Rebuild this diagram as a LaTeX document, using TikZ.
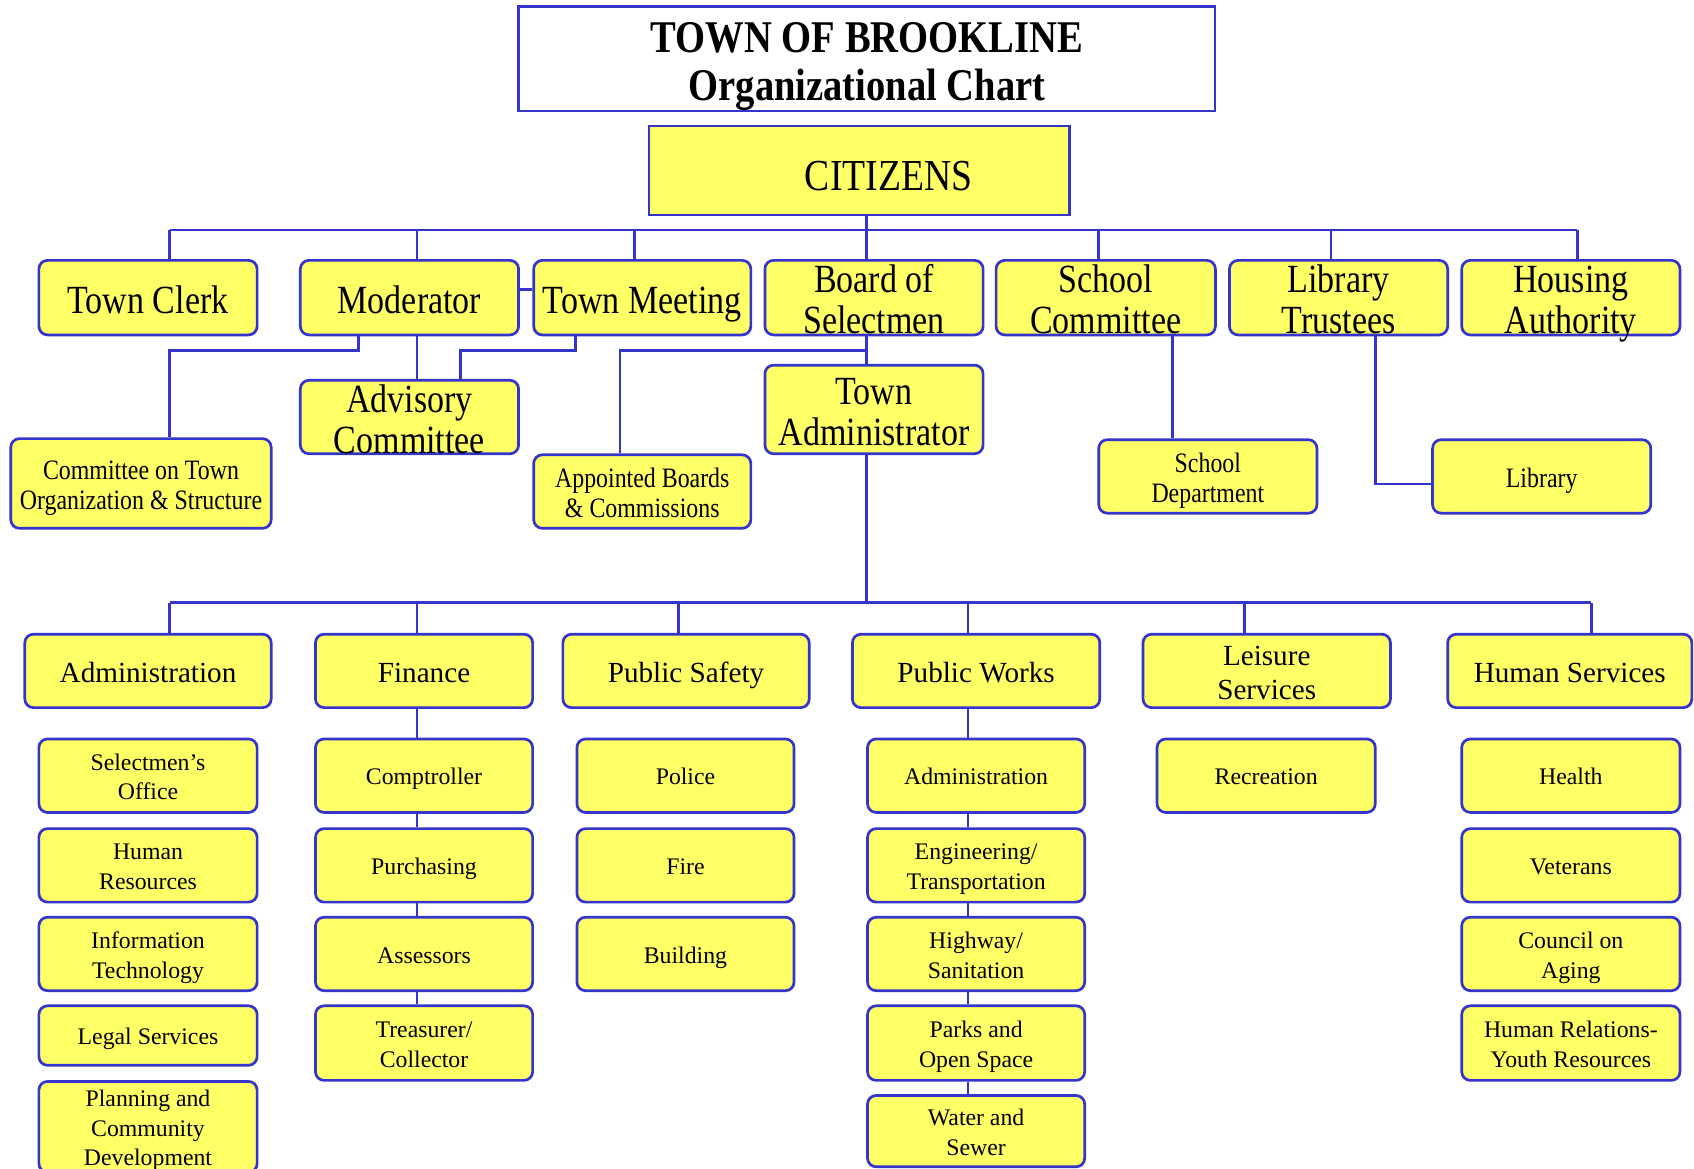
\documentclass[tikz,border=0pt]{standalone}
\usepackage{fontspec}
\setmainfont{Liberation Serif}
\newfontfamily\cond[FakeStretch=0.85]{Liberation Serif}
\definecolor{bl}{HTML}{3535CC}
\definecolor{yel}{HTML}{FFFF66}
\newcommand\bs{\rule{0pt}{1.0em}}
\begin{document}
\begin{tikzpicture}[x=1pt,y=-1pt,
  struts/.style={execute at end node={\rule[-0.22em]{0pt}{0pt}}},
  box/.style={struts, draw=bl, fill=yel, line width=2.5pt, rounded corners=8pt, inner sep=0pt, inner ysep=-10pt, align=center, text=black},
  bigbox/.style={box, minimum width=202, minimum height=69, font=\cond\fontsize{37}{38}\selectfont},
  smallcond/.style={box, minimum width=202, minimum height=68, font=\cond\fontsize{26}{28}\selectfont},
  deptbox/.style={box, minimum width=228, minimum height=68, font=\fontsize{27}{32}\selectfont},
  subbox/.style={box, minimum width=202, minimum height=68, font=\fontsize{22}{27.5}\selectfont},
  conn/.style={draw=bl, line width=2.5pt}]
\clip (0,0) rectangle (1568,1082);
\fill[white] (0,0) rectangle (1568,1082);

% title and citizens
\node[struts, draw=bl, line width=2pt, minimum width=645, minimum height=97, inner sep=0pt, inner ysep=-10pt, align=center,
      font=\cond\bfseries\fontsize{42}{44}\selectfont] (title) at (802.5,54.5) {\bs TOWN OF BROOKLINE\\Organizational Chart};
\node[draw=bl, fill=yel, line width=2pt, minimum width=389, minimum height=82, inner sep=0pt,
      font=\cond\fontsize{41}{44}\selectfont] (cit) at (795.5,158) {\hspace*{54pt}\rule{0pt}{37pt}CITIZENS};

% row 1
\node[bigbox] (clerk) at (137,275.5) {\bs Town Clerk};
\node[bigbox] (mod) at (379,275.5) {\bs Moderator};
\node[bigbox, minimum width=201] (tm) at (594.5,275.5) {\bs Town Meeting};
\node[bigbox] (board) at (809,275.5) {\bs Board of\\Selectmen};
\node[bigbox, minimum width=203] (sc) at (1023.5,275.5) {\bs School\\Committee};
\node[bigbox] (lt) at (1239,275.5) {\bs Library\\Trustees};
\node[bigbox] (ha) at (1454,275.5) {\bs Housing\\Authority};

% second level top
\node[bigbox, minimum height=68] (adv) at (379,386) {\bs Advisory\\Committee};
\node[bigbox, minimum height=82] (ta) at (809,379) {\bs Town\\Administrator};
\node[smallcond, minimum width=241, minimum height=83] (comm) at (130.5,447.5) {\bs Committee on Town\\Organization \& Structure};
\node[smallcond, minimum width=201] (app) at (594.5,455) {\bs Appointed Boards\\\& Commissions};
\node[smallcond] (sd) at (1118,441) {\bs School\\Department};
\node[smallcond] (lib) at (1427,441) {\bs Library};

% departments
\node[deptbox] (adm) at (137,621) {\bs Administration};
\node[deptbox, minimum width=201] (fin) at (392.5,621) {\bs Finance};
\node[deptbox] (ps) at (635,621) {\bs Public Safety};
\node[deptbox, minimum width=229] (pw) at (903.5,621) {\bs Public Works};
\node[deptbox, minimum width=229] (leis) at (1172.5,621) {\bs Leisure\\Services};
\node[deptbox, minimum width=226] (hs) at (1453,621) {\bs Human Services};

% administration column
\node[subbox] (selo) at (137,718) {\bs Selectmen’s\\Office};
\node[subbox] (hr) at (137,801) {\bs Human\\Resources};
\node[subbox] (it) at (137,883) {\bs Information\\Technology};
\node[subbox, minimum height=55] (legal) at (137,958.5) {\bs Legal Services};
\node[subbox, minimum height=84] (plan) at (137,1043) {\bs Planning and\\Community\\Development};

% finance column
\node[subbox, minimum width=201] (comp) at (392.5,718) {\bs Comptroller};
\node[subbox, minimum width=201] (purch) at (392.5,801) {\bs Purchasing};
\node[subbox, minimum width=201] (assess) at (392.5,883) {\bs Assessors};
\node[subbox, minimum width=201, minimum height=69] (treas) at (392.5,965.5) {\bs Treasurer/\\Collector};

% public safety column
\node[subbox, minimum width=201] (police) at (634.5,718) {\bs Police};
\node[subbox, minimum width=201] (fire) at (634.5,801) {\bs Fire};
\node[subbox, minimum width=201] (bldg) at (634.5,883) {\bs Building};

% public works column
\node[subbox, minimum width=201] (pwadm) at (903.5,718) {\bs Administration};
\node[subbox, minimum width=201] (eng) at (903.5,801) {\bs Engineering/\\Transportation};
\node[subbox, minimum width=201] (hwy) at (903.5,883) {\bs Highway/\\Sanitation};
\node[subbox, minimum width=201, minimum height=69] (parks) at (903.5,965.5) {\bs Parks and\\Open Space};
\node[subbox, minimum width=201, minimum height=66] (water) at (903.5,1047) {\bs Water and\\Sewer};

% leisure column
\node[subbox] (rec) at (1172,718) {\bs Recreation};

% human services column
\node[subbox] (health) at (1454,718) {\bs Health};
\node[subbox] (vet) at (1454,801) {\bs Veterans};
\node[subbox] (coa) at (1454,883) {\bs Council on\\Aging};
\node[subbox, minimum height=69] (hrel) at (1454,965.5) {\bs Human Relations-\\Youth Resources};

% ---- connectors top ----
\coordinate (b1L) at (157,213);
\coordinate (b1R) at (1460,213);
\draw[conn] (b1L) -- (b1R);
\draw[conn] ([xshift=6.5]cit.south) -- ([xshift=-7]board.north);
\draw[conn] ([xshift=20]clerk.north) -- ([xshift=20]clerk.north |- b1L);
\draw[conn] ([xshift=7]mod.north) -- ([xshift=7]mod.north |- b1L);
\draw[conn] ([xshift=-7.5]tm.north) -- ([xshift=-7.5]tm.north |- b1L);
\draw[conn] ([xshift=-6.5]sc.north) -- ([xshift=-6.5]sc.north |- b1L);
\draw[conn] ([xshift=-7]lt.north) -- ([xshift=-7]lt.north |- b1L);
\draw[conn] ([xshift=6]ha.north) -- ([xshift=6]ha.north |- b1L);
\draw[conn] ([yshift=7.5]mod.east) -- ([yshift=7.5]tm.west);

\draw[conn] ([xshift=-47]mod.south) -- ++(0,13) -| ([xshift=26.5]comm.north);
\draw[conn] ([xshift=7]mod.south) -- ([xshift=7]adv.north);
\draw[conn] ([xshift=-61.5]tm.south) -- ++(0,13) -| ([xshift=47]adv.north);
\draw[conn] ([xshift=-7]board.south) -- ([xshift=-7]ta.north);
\draw[conn] ([xshift=-7]board.south) -- ++(0,13) -| ([xshift=-20.5]app.north);
\draw[conn] ([xshift=61.5]sc.south) -- ([xshift=61.5]sc.south |- sd.north);
\draw[conn] ([xshift=34]lt.south) |- ([yshift=-7]lib.west);

% ---- connectors bottom ----
\coordinate (b2L) at (157,558);
\coordinate (b2R) at (1473,558);
\draw[conn] (b2L) -- (b2R);
\draw[conn] ([xshift=-7]ta.south) -- ([xshift=-7]ta.south |- b2L);
\draw[conn] ([xshift=20]adm.north) -- ([xshift=20]adm.north |- b2L);
\draw[conn] ([xshift=-6.5]fin.north) -- ([xshift=-6.5]fin.north |- b2L);
\draw[conn] ([xshift=-7]ps.north) -- ([xshift=-7]ps.north |- b2L);
\draw[conn] ([xshift=-7.5]pw.north) -- ([xshift=-7.5]pw.north |- b2L);
\draw[conn] ([xshift=-20.5]leis.north) -- ([xshift=-20.5]leis.north |- b2L);
\draw[conn] ([xshift=20]hs.north) -- ([xshift=20]hs.north |- b2L);

\foreach \a/\b in {fin/comp, comp/purch, purch/assess, assess/treas}
  \draw[conn] ([xshift=-6.5]\a.south) -- ([xshift=-6.5]\b.north);
\foreach \a/\b in {pw/pwadm, pwadm/eng, eng/hwy, hwy/parks, parks/water}
  \draw[conn] ([xshift=-7.5]\a.south) -- ([xshift=-7.5]\b.north);
\end{tikzpicture}
\end{document}
